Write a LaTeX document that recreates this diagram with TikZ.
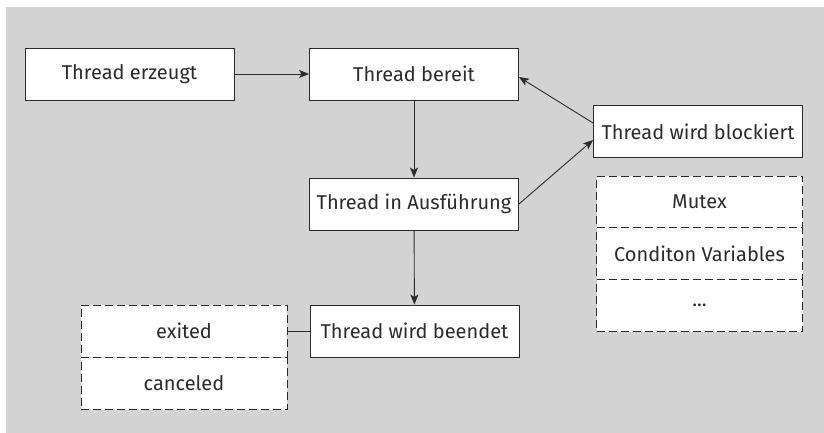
\documentclass[tikz,border=0pt]{standalone}
\usepackage{fontspec}
\setmainfont{Fira Sans}
\usetikzlibrary{arrows.meta}
\definecolor{bggray}{HTML}{D3D3D3}
\definecolor{linegray}{HTML}{2B2B2B}

\begin{document}
\begin{tikzpicture}[x=0.5pt, y=-0.5pt, >={Stealth[length=5pt, width=4pt, inset=1.2pt]},
  font=\fontsize{10}{12}\selectfont, text=linegray,
  box/.style={draw=linegray, fill=white, line width=0.45pt, minimum width=104.5pt, minimum height=26pt, inner sep=0pt},
  cell/.style={box, dash pattern=on 4pt off 2pt, minimum width=103pt},
  link/.style={draw=linegray, line width=0.45pt}]
\useasboundingbox (0,0) rectangle (824,433);
\fill[bggray] (6,7) rectangle (824,433);

\path (129.5,74) node[box] (erzeugt) {Thread erzeugt}
      (414,74) node[box] (bereit) {Thread bereit}
      (414,204) node[box] (ausf) {Thread in Ausführung}
      (414.5,331) node[box] (beendet) {Thread wird beendet}
      (698,131.5) node[box] (blockiert) {Thread wird blockiert};

\path (699.5,202) node[cell] (mutex) {Mutex}
      (699.5,253.5) node[cell] (condvar) {Conditon Variables}
      (699.5,305.5) node[cell] (dots) {...};

\path (184,331) node[cell] (exited) {exited}
      (184,383.5) node[cell] (canceled) {canceled};

\draw[link, ->] (erzeugt) -- (bereit);
\draw[link, ->] (bereit) -- (ausf);
\draw[link, ->] (ausf) -- (beendet);
\draw[link, ->] (ausf.east) -- ([yshift=-4.25pt]blockiert.west);
\draw[link, ->] ([yshift=4.25pt]blockiert.west) -- ([yshift=-1.5pt]bereit.east);
\draw[link] (beendet) -- (exited);
\end{tikzpicture}
\end{document}
